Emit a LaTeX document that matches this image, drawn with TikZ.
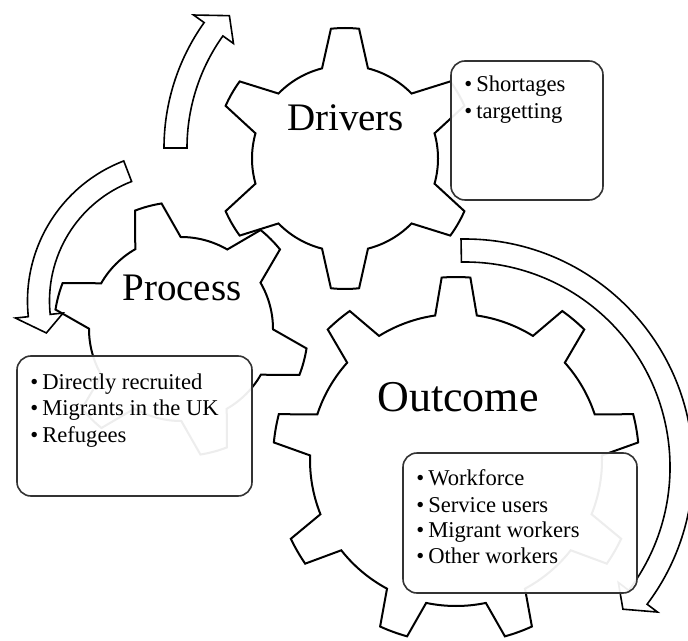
\documentclass[tikz,border=0pt]{standalone}
\usepackage{fontspec}
\setmainfont{Liberation Serif}
\usetikzlibrary{calc}

\tikzset{
  gear/.style = {draw = black, line width = 1pt, fill = white, line join = miter},
  blockarrow/.style = {draw = black, line width = 0.8pt, fill = white, line join = miter},
  infobox/.style = {draw = black!80, line width = 0.8pt, fill = white, fill opacity = 0.93, rounded corners = 7pt},
  gearname/.style = {font = \fontsize{19.5}{22}\selectfont, anchor = base, inner sep = 0pt},
  item/.style = {font = \fontsize{11.3}{13}\selectfont, anchor = base west, inner sep = 0pt}
}

% #1 centre, #2 teeth, #3 root radius, #4 tip radius, #5 root half angle, #6 tip half angle, #7 first tooth
\newcommand{\drawgear}[7]{%
  \pgfmathsetmacro{\gstep}{360/#2}%
  \draw[gear] ($(#1)+({#7-#5}:#3)$)
    \foreach \k in {1,...,#2}{%
      -- ($(#1)+({#7+(\k-1)*\gstep-#6}:#4)$)
      arc[start angle = {#7+(\k-1)*\gstep-#6}, end angle = {#7+(\k-1)*\gstep+#6}, radius = #4]
      -- ($(#1)+({#7+(\k-1)*\gstep+#5}:#3)$)
      arc[start angle = {#7+(\k-1)*\gstep+#5}, end angle = {#7+\k*\gstep-#5}, radius = #3]
    } -- cycle;%
}

% #1 centre, #2 inner r, #3 outer r, #4 tail angle, #5 head angle, #6 tip angle, #7 wing overhang
\newcommand{\curvedarrow}[7]{%
  \draw[blockarrow] ($(#1)+(#4:#3)$)
    arc[start angle = #4, end angle = #5, radius = #3]
    -- ($(#1)+(#5:{#3+#7})$)
    -- ($(#1)+(#6:{(#2+#3)/2-4})$)
    -- ($(#1)+(#5:{#2-#7})$)
    -- ($(#1)+(#5:#2)$)
    arc[start angle = #5, end angle = #4, radius = #2]
    -- cycle;%
}

\begin{document}
\begin{tikzpicture}[x = 0.5pt, y = -0.5pt]
\useasboundingbox (0, 0) rectangle (688, 640);
\clip (0, 0) rectangle (688, 640);

% gear centres
\coordinate (drv) at (345, 158.5);
\coordinate (prc) at (181, 329);
\coordinate (out) at (456, 460);

% gears
\drawgear{out}{9}{146}{183}{8.2}{4.5}{30}
\drawgear{prc}{6}{92}{127}{14.8}{6.2}{15}
\drawgear{drv}{6}{93}{130.5}{14.3}{6.2}{30}

% circular arrows
\coordinate (arrA) at (380, 148);
\coordinate (arrB) at (177.5, 301);
\coordinate (arrC) at (465, 467);
\curvedarrow{arrA}{193}{216}{180}{215.5}{221.3}{13}
\curvedarrow{arrB}{128}{150}{249}{174}{166.3}{13}
\curvedarrow{arrC}{205}{228}{269}{397}{402}{13}

% text boxes
\draw[infobox] (451, 61) rectangle (603, 200);
\draw[infobox] (17, 356) rectangle (252, 496);
\draw[infobox] (403, 453) rectangle (637, 593);

% gear names
\node[gearname] (drvname) at (345.5, 131) {Drivers};
\node[gearname] (prcname) at (182, 300) {Process};
\node[gearname, font = \fontsize{22}{25}\selectfont] (outname) at (458, 411) {Outcome};

% bullet lists
\node[item] (drv1) at (464, 92) {\textbullet\hspace{2pt}Shortages};
\node[item] (drv2) at (464, 119) {\textbullet\hspace{2pt}targetting};
\node[item] (prc1) at (30, 389) {\textbullet\hspace{2pt}Directly recruited};
\node[item] (prc2) at (30, 415) {\textbullet\hspace{2pt}Migrants in the UK};
\node[item] (prc3) at (30, 442) {\textbullet\hspace{2pt}Refugees};
\node[item] (out1) at (416, 485) {\textbullet\hspace{2pt}Workforce};
\node[item] (out2) at (416, 512) {\textbullet\hspace{2pt}Service users};
\node[item] (out3) at (416, 537) {\textbullet\hspace{2pt}Migrant workers};
\node[item] (out4) at (416, 563) {\textbullet\hspace{2pt}Other workers};
\end{tikzpicture}
\end{document}
